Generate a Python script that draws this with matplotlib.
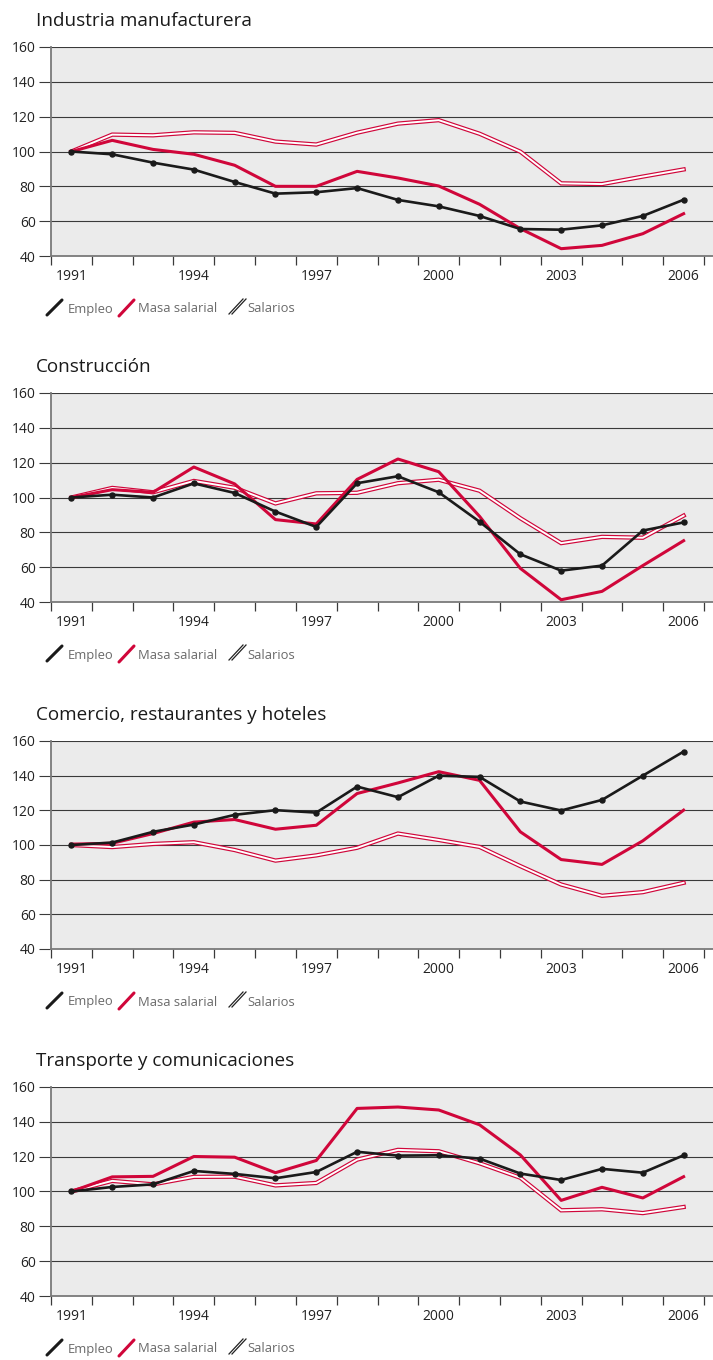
import matplotlib
matplotlib.use("Agg")
import matplotlib.pyplot as plt
from matplotlib.lines import Line2D
import numpy as np

plt.rcParams['font.family'] = ['Open Sans', 'DejaVu Sans']

years = list(range(1991, 2007))
year_labels = ["1991", "1994", "1997", "2000", "2003", "2006"]

titles = ["Industria manufacturera", "Construcción",
          "Comercio, restaurantes y hoteles", "Transporte y comunicaciones"]

empleo_ind = [100, 98.4, 93.6, 89.6, 82.5, 75.8, 76.6, 79.0, 72.2, 68.5, 63.0, 55.5, 55.1, 57.6, 63.0, 72.3]
masa_ind = [100, 106.4, 101.2, 98.4, 92.1, 80.0, 80.0, 88.6, 84.8, 80.2, 69.7, 55.7, 44.2, 46.1, 52.8, 64.3]
salarios_ind = [100, 109.7, 109.3, 111.0, 110.7, 105.7, 104.0, 110.8, 116.0, 118.0, 110.2, 99.9, 81.7, 81.3, 85.6, 89.7]

empleo_con = [100, 101.6, 100, 108.1, 102.6, 91.9, 83.1, 108.2, 112.2, 103.0, 86.1, 67.4, 58.0, 60.9, 81.0, 85.7]
masa_con = [100, 104.5, 103.0, 117.5, 107.8, 87.3, 84.8, 110.4, 122.1, 114.8, 89.2, 59.3, 41.3, 46.1, 60.9, 75.2]
salarios_con = [100, 105.5, 103.0, 109.5, 105.6, 96.6, 102.4, 102.7, 108.2, 110.2, 103.9, 88.1, 73.8, 77.4, 76.9, 89.6]

empleo_com = [100, 101.4, 107.6, 111.8, 117.4, 120.1, 118.7, 133.7, 127.6, 140.0, 139.3, 125.1, 119.9, 126.0, 140.0, 153.9]
masa_com = [100.5, 101.0, 106.6, 113.2, 114.7, 109.1, 111.4, 129.7, 135.8, 142.3, 137.3, 107.6, 91.6, 88.8, 102.4, 120.1]
salarios_com = [100, 98.8, 100.6, 101.6, 97.1, 91.0, 94.0, 98.4, 106.6, 102.9, 98.9, 87.8, 77.2, 70.7, 72.8, 78.2]

empleo_tra = [100, 102.6, 104.1, 111.8, 110.1, 107.6, 111.2, 122.8, 120.6, 120.8, 118.9, 110.3, 106.6, 113.0, 110.8, 120.8]
masa_tra = [100, 108.4, 108.7, 120.1, 119.7, 110.8, 117.8, 147.7, 148.5, 146.8, 138.3, 121.0, 94.9, 102.4, 96.3, 108.5]
salarios_tra = [100, 106.1, 104.1, 108.4, 108.5, 103.5, 104.9, 118.3, 123.9, 123.1, 116.2, 107.9, 89.2, 89.8, 87.6, 91.1]

panels = [
    (titles[0], empleo_ind, masa_ind, salarios_ind),
    (titles[1], empleo_con, masa_con, salarios_con),
    (titles[2], empleo_com, masa_com, salarios_com),
    (titles[3], empleo_tra, masa_tra, salarios_tra),
]

RED = '#d0063a'
BG = '#ebebeb'
W, H = 713, 1360
fig = plt.figure(figsize=(W / 100, H / 100), dpi=100)

# axes pixel boxes: (top, bottom)
boxes = [(47, 256), (393, 602), (741, 949), (1087, 1296)]
left_px = 51

def fx(px):
    return px / W

def fy(py):
    return 1 - py / H

for (title, emp, masa, sal), (top, bot) in zip(panels, boxes):
    ax = fig.add_axes([fx(left_px), fy(bot), fx(W - left_px), (bot - top) / H])
    ax.set_facecolor(BG)
    x = np.arange(len(years))
    ax.plot(x, sal, color=RED, lw=3.1, solid_joinstyle='miter', zorder=3)
    ax.plot(x, sal, color='white', lw=1.4, solid_joinstyle='miter', zorder=3.1)
    ax.plot(x, masa, color=RED, lw=2.2, zorder=4)
    ax.plot(x, emp, color='#1a1a1a', lw=1.9, marker='o', markersize=3.6, zorder=5)

    ax.set_xlim(-0.5, 15.72)
    ax.set_ylim(40, 160)
    ax.set_yticks(range(40, 161, 20))
    ax.yaxis.grid(True, color='#3a3a3a', lw=0.8)
    ax.set_axisbelow(True)
    ax.tick_params(axis='y', length=9, width=0.8, color='#3a3a3a', pad=2,
                   labelsize=10, labelcolor='#222222')
    label_pos = [years.index(int(y)) for y in year_labels]
    ax.set_xticks(label_pos)
    ax.set_xticklabels(year_labels)
    ax.set_xticks(np.arange(-0.5, 15.6, 1), minor=True)
    ax.tick_params(axis='x', which='major', length=0, pad=9.5, labelsize=10,
                   labelcolor='#222222')
    ax.tick_params(axis='x', which='minor', length=6.5, width=0.9, color='#3a3a3a')
    for s in ['top', 'right']:
        ax.spines[s].set_visible(False)
    for s in ['left', 'bottom']:
        ax.spines[s].set_color('#7a7a7a')
        ax.spines[s].set_linewidth(1.3)

    # title
    fig.text(fx(36), fy(top - 26), title, fontsize=13.6, color='#1a1a1a',
             ha='left', va='center')

    # legend
    ly = bot + 52
    fig.add_artist(Line2D([fx(47), fx(62)], [fy(ly + 7), fy(ly - 8)],
                          color='#1a1a1a', lw=2.2, solid_capstyle='round'))
    fig.text(fx(68), fy(ly + 1), 'Empleo', fontsize=9.4, color='#6a6a6a',
             ha='left', va='center')
    fig.add_artist(Line2D([fx(119), fx(134)], [fy(ly + 8), fy(ly - 8)],
                          color=RED, lw=2.2, solid_capstyle='round'))
    fig.text(fx(138), fy(ly + 1), 'Masa salarial', fontsize=9.4, color='#6a6a6a',
             ha='left', va='center')
    for off in (0, 3):
        fig.add_artist(Line2D([fx(229 + off), fx(243 + off)], [fy(ly + 6), fy(ly - 9)],
                              color='#222222', lw=0.9))
    fig.text(fx(247), fy(ly + 1), 'Salarios', fontsize=9.4, color='#6a6a6a',
             ha='left', va='center')

fig.savefig('out.png', dpi=100, facecolor='white')
